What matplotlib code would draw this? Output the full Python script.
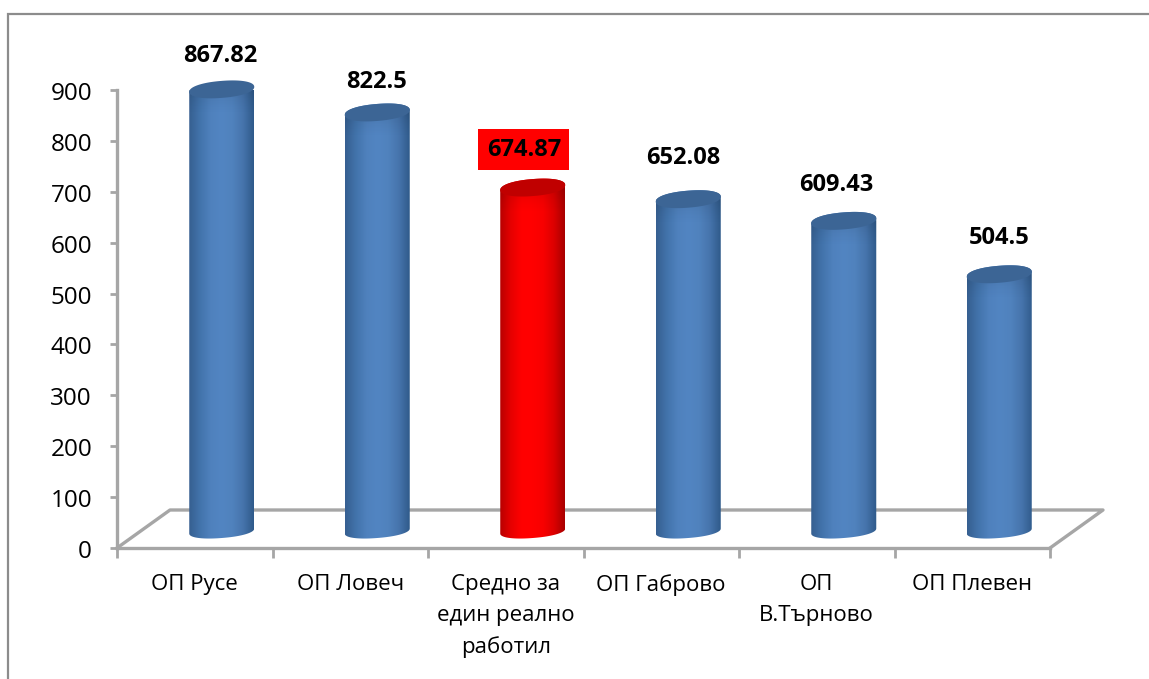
import numpy as np
import matplotlib.pyplot as plt
from matplotlib.colors import LinearSegmentedColormap
from matplotlib.patches import Rectangle, Polygon
from matplotlib.transforms import ScaledTranslation

# dados
categorias = ['ОП Русе', 'ОП Ловеч', 'Средно за\nедин реално\nработил', 'ОП Габрово', 'ОП\nВ.Търново', 'ОП Плевен']
valores = [867.82, 822.5, 674.87, 652.08, 609.43, 504.5]
rotulos = ['867.82', '822.5', '674.87', '652.08', '609.43', '504.5']
y_ticks = [0, 100, 200, 300, 400, 500, 600, 700, 800, 900]
destaque = 2

# deslocamento dos rotulos em pixels (x, y acima do valor)
rotulo_dx = [0, 0, -8, -4, -6, 1]
rotulo_dy = [50, 47, 55, 58, 53, 53]

plt.rcParams['font.family'] = ['Open Sans', 'Noto Sans', 'DejaVu Sans']

W, H = 1149, 679
L, R, T, B = 117, 1050, 90, 548
fig = plt.figure(figsize=(W / 100, H / 100), dpi=100)
ax = fig.add_axes([L / W, (H - B) / H, (R - L) / W, (B - T) / H])
ax.set_xlim(0, 6)
ax.set_ylim(0, 900)

# pixels para unidades de dados
px = 6 / (R - L)
py = 900 / (B - T)
CINZA = '#a6a6a6'

# chao 3D
fx, fy = 53 * px, 38 * py
ax.plot([0, fx, 6 + fx, 6], [0, fy, fy, 0], color=CINZA, lw=2.4, clip_on=False, zorder=1)


def elipse(t, e=0.92):
    # superelipse: o cilindro original tem as pontas um pouco mais arredondadas
    c, s = np.cos(t), np.sin(t)
    return np.sign(c) * np.abs(c) ** e, np.sign(s) * np.abs(s) ** e


def cilindro(ax, cx, topo, cores, cor_topo):
    a, b, s = 32.5 * px, 8.5 * py, 2.5 * py
    base = 17 * py
    t = np.linspace(np.pi, 2 * np.pi, 80)
    ci, si = elipse(t)
    x_inf = cx + a * ci
    y_inf = base + 7 * py * si + 2.5 * py * ci
    t = np.linspace(0, np.pi, 80)
    cs, ss = elipse(t)
    x_sup = cx + a * cs
    y_sup = topo + b * ss + s * cs
    xy = np.vstack([np.column_stack([x_inf, y_inf]), np.column_stack([x_sup, y_sup])])
    corpo = Polygon(xy, closed=True, transform=ax.transData, fc='none', ec='none')
    ax.add_patch(corpo)
    cmap = LinearSegmentedColormap.from_list('c', cores)
    grad = np.linspace(0, 1, 256).reshape(1, -1)
    im = ax.imshow(grad, cmap=cmap, extent=[cx - a, cx + a, 0, topo + 2 * b], aspect='auto', zorder=3)
    im.set_clip_path(corpo)
    # sombra logo abaixo da tampa
    rgba = np.zeros((64, 1, 4))
    rgba[..., 3] = np.linspace(0, 0.22, 64).reshape(-1, 1) ** 1.5
    im2 = ax.imshow(rgba, extent=[cx - a, cx + a, topo - 26 * py, topo], origin='lower', aspect='auto', zorder=3.5)
    im2.set_clip_path(corpo)
    # elipse do topo
    t2 = np.linspace(0, 2 * np.pi, 160)
    c2, s2 = elipse(t2)
    tampa = np.column_stack([cx + a * c2, topo + b * s2 + s * c2])
    ax.add_patch(Polygon(tampa, closed=True, fc=cor_topo, ec='none', zorder=4, clip_on=False))


azul = ['#365f90', '#4273ab', '#4f81bd', '#5285c2', '#5082bd', '#4674ac', '#2f5a8a']
vermelho = ['#b80000', '#e60000', '#ff0000', '#ff0000', '#f80000', '#dc0000', '#a80000']

for i, v in enumerate(valores):
    cx = i + 0.5 + 27 * px
    topo = v + 17 * py
    if i == destaque:
        cilindro(ax, cx, topo, vermelho, '#c00000')
    else:
        cilindro(ax, cx, topo, azul, '#3c6595')
    bbox = None
    if i == destaque:
        bbox = dict(facecolor='#ff0000', edgecolor='none', pad=6)
    ax.text(cx + (rotulo_dx[i] - 1) * px, v + rotulo_dy[i] * py, rotulos[i], ha='center', va='center',
            fontsize=17, fontweight='bold', color='black', bbox=bbox, zorder=6, clip_on=False)

ax.set_xlim(0, 6)
ax.set_ylim(0, 900)

# eixos
for lado in ['top', 'right']:
    ax.spines[lado].set_visible(False)
for lado in ['left', 'bottom']:
    ax.spines[lado].set_color(CINZA)
    ax.spines[lado].set_linewidth(2.4)
    ax.spines[lado].set_zorder(2)

ax.set_yticks(y_ticks)
ax.tick_params(axis='y', length=5, width=2, color=CINZA, labelsize=17.5, pad=13)
for lbl in ax.get_yticklabels():
    lbl.set_transform(lbl.get_transform() + ScaledTranslation(0, -1 / 100, fig.dpi_scale_trans))
ax.set_xticks(range(7))
ax.tick_params(axis='x', which='major', length=7, width=2, color=CINZA, labelbottom=False)
ax.set_xticks(np.arange(6) + 0.5, labels=categorias, minor=True)
ax.tick_params(axis='x', which='minor', length=0, labelsize=16, pad=19)
for lbl in ax.get_xticklabels(minor=True):
    lbl.set_linespacing(1.6)
    lbl.set_verticalalignment('top')

# moldura externa (sai da imagem a direita e embaixo)
fig.add_artist(Rectangle((8 / W, -0.1), 1.2, 0.1 + (H - 14) / H, transform=fig.transFigure,
                         fc='none', ec='#8c8c8c', lw=1.6, zorder=0))

fig.savefig('out.png', dpi=100)
